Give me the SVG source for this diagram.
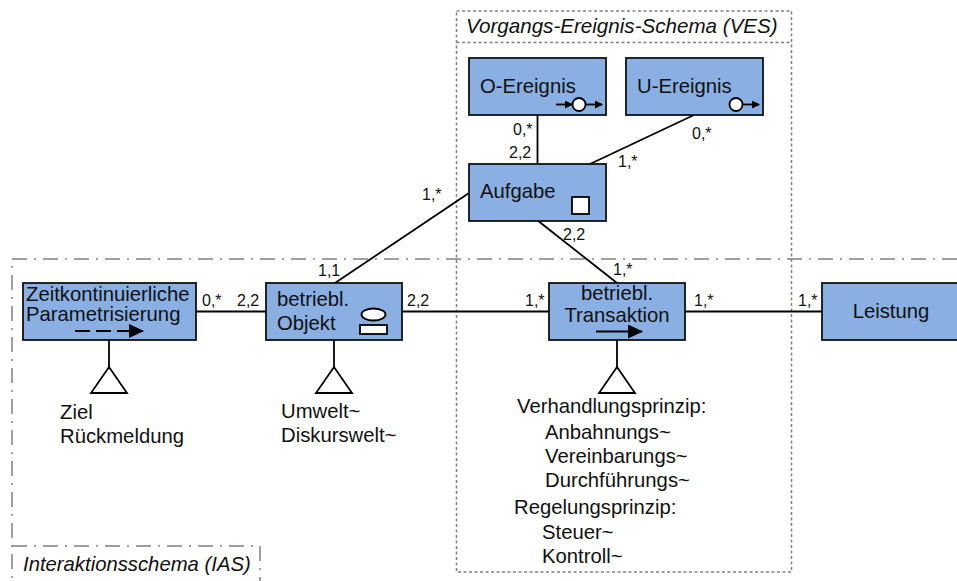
<svg xmlns="http://www.w3.org/2000/svg" width="957" height="581" viewBox="0 0 957 581">
<style>
text{font-family:"Liberation Sans",Arial,sans-serif;font-size:20.300px;fill:#111}
.c{font-size:16px}
.i{font-style:italic;font-size:20.300px}
.v{font-size:20.600px}
.n{fill:#8aafe2;stroke:#111;stroke-width:1.8}
.l{fill:none;stroke:#000;stroke-width:1.8}
.w{fill:#fff;stroke:#000;stroke-width:1.8}
.ves{fill:none;stroke:#808080;stroke-width:1.5;stroke-dasharray:3 2.5}
.ias{fill:none;stroke:#808080;stroke-width:1.5;stroke-dasharray:15 7 2 7}
</style>
<defs>
<marker id="a" markerWidth="8" markerHeight="8" refX="7" refY="4" orient="auto" markerUnits="userSpaceOnUse"><path d="M0 0L8 4L0 8Z" fill="#000"/></marker>
<marker id="b" markerWidth="15" markerHeight="14" refX="14" refY="7" orient="auto" markerUnits="userSpaceOnUse"><path d="M0 0L15 7L0 14Z" fill="#000"/></marker>
</defs>
<g id="frames">
<path class="ves" d="M456.500 11H791.500V572H456.500Z"/>
<path class="ves" d="M456.500 42.500H791.500"/>
<path class="ias" d="M957 259H12V581"/>
<path class="ias" d="M12 546H260V581"/>
<text class="i v" x="466" y="33">Vorgangs-Ereignis-Schema (VES)</text>
<text class="i" x="23" y="571">Interaktionsschema (IAS)</text>
</g>
<g id="connectors">
<path class="l" d="M537.500 115V164"/>
<path class="l" d="M694 115L590 164"/>
<path class="l" d="M469 193L335 283"/>
<path class="l" d="M537 220L617 283"/>
<path class="l" d="M196 311.500H266"/>
<path class="l" d="M402 311.500H549"/>
<path class="l" d="M685 311.500H822"/>
<path class="l" d="M109 340V367"/>
<path class="l" d="M334 340V367"/>
<path class="l" d="M617 340V367"/>
<text class="c" x="513" y="135">0,*</text>
<text class="c" x="509" y="158">2,2</text>
<text class="c" x="692" y="139">0,*</text>
<text class="c" x="618" y="167">1,*</text>
<text class="c" x="422" y="200">1,*</text>
<text class="c" x="563" y="240">2,2</text>
<text class="c" x="613" y="275">1,*</text>
<text class="c" x="318" y="276">1,1</text>
<text class="c" x="202" y="306">0,*</text>
<text class="c" x="237" y="306">2,2</text>
<text class="c" x="407" y="306">2,2</text>
<text class="c" x="525" y="306">1,*</text>
<text class="c" x="694" y="306">1,*</text>
<text class="c" x="798" y="306">1,*</text>
</g>
<g id="o-ereignis">
<rect class="n" x="469" y="58" width="137" height="57"/>
<text x="480" y="93">O-Ereignis</text>
<path class="l" d="M556 104.500H572" marker-end="url(#a)"/>
<path class="l" d="M586 104.500H602" marker-end="url(#a)"/>
<circle class="w" cx="579" cy="104.500" r="6.500"/>
</g>
<g id="u-ereignis">
<rect class="n" x="626" y="58" width="137" height="57"/>
<text x="637" y="93">U-Ereignis</text>
<path class="l" d="M743 104.500H759" marker-end="url(#a)"/>
<circle class="w" cx="736" cy="104.500" r="6.500"/>
</g>
<g id="aufgabe">
<rect class="n" x="469" y="164" width="137" height="57"/>
<text x="480" y="198">Aufgabe</text>
<rect class="w" x="572" y="197" width="17" height="17"/>
</g>
<g id="parametrisierung">
<rect class="n" x="23" y="283" width="173" height="57"/>
<text x="26" y="301">Zeitkontinuierliche</text>
<text x="26" y="321">Parametrisierung</text>
<path class="l" d="M75 331H143" stroke-dasharray="15 6" marker-end="url(#b)"/>
<path class="w" d="M109 367L127 393H91Z"/>
<text x="60" y="419">Ziel</text>
<text x="60" y="443">Rückmeldung</text>
</g>
<g id="objekt">
<rect class="n" x="266" y="283" width="136" height="57"/>
<text x="277" y="306">betriebl.</text>
<text x="277" y="330">Objekt</text>
<ellipse class="w" cx="373.500" cy="314.500" rx="12" ry="6"/>
<rect class="w" x="360" y="325" width="27" height="9"/>
<path class="w" d="M334 367L352 393H316Z"/>
<text x="281" y="418">Umwelt~</text>
<text x="281" y="442">Diskurswelt~</text>
</g>
<g id="transaktion">
<rect class="n" x="549" y="283" width="136" height="57"/>
<text x="617" y="300" text-anchor="middle">betriebl.</text>
<text x="617" y="322" text-anchor="middle">Transaktion</text>
<path class="l" d="M596 331.500H642" marker-end="url(#b)"/>
<path class="w" d="M617 367L635 393H599Z"/>
<text x="517" y="413">Verhandlungsprinzip:</text>
<text x="545" y="439">Anbahnungs~</text>
<text x="545" y="463">Vereinbarungs~</text>
<text x="545" y="487">Durchführungs~</text>
<text x="514" y="514">Regelungsprinzip:</text>
<text x="542" y="539">Steuer~</text>
<text x="542" y="563">Kontroll~</text>
</g>
<g id="leistung">
<rect class="n" x="822" y="283" width="140" height="57"/>
<text x="891" y="318" text-anchor="middle">Leistung</text>
</g>
</svg>
